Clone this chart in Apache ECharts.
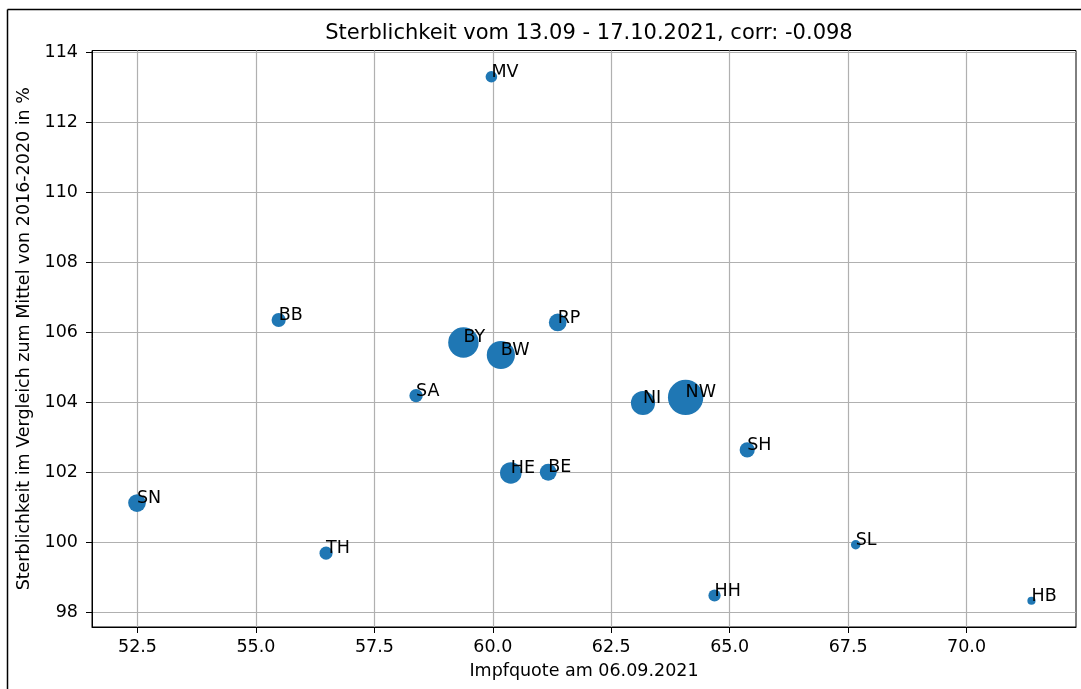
<!DOCTYPE html>
<html>
<head>
<meta charset="utf-8">
<script src="https://cdn.jsdelivr.net/npm/echarts@6/dist/echarts.min.js"></script>
<style>
html,body{margin:0;padding:0;background:#fff;}
#chart{width:1081px;height:689px;}
</style>
</head>
<body>
<div id="chart"></div>
<script>
// ---- data ----
const laender = ['MV','BB','BY','BW','RP','SA','NI','NW','SH','HE','BE','SN','TH','SL','HH','HB'];
const impfquote = [59.97, 55.48, 59.38, 60.17, 61.37, 58.38, 63.17, 64.07, 65.37, 60.38, 61.17, 52.49, 56.48, 67.66, 64.68, 71.37];
const sterblichkeit = [113.31, 106.36, 105.72, 105.36, 106.29, 104.20, 103.99, 104.15, 102.65, 101.99, 102.01, 101.13, 99.70, 99.94, 98.49, 98.34];
const einwohner = [1.6, 2.5, 13.1, 11.1, 4.1, 2.2, 8.0, 17.9, 2.9, 6.3, 3.7, 4.1, 2.1, 1.0, 1.8, 0.7];
const xTicks = [52.5, 55.0, 57.5, 60.0, 62.5, 65.0, 67.5, 70.0];
const yTicks = [98, 100, 102, 104, 106, 108, 110, 112, 114];
const titel = 'Sterblichkeit vom 13.09 - 17.10.2021, corr: -0.098';
const xName = 'Impfquote am 06.09.2021';
const yName = 'Sterblichkeit im Vergleich zum Mittel von 2016-2020 in %';

const points = laender.map((n, i) => ({name: n, value: [impfquote[i], sterblichkeit[i], einwohner[i]]}));

const FONT = 'DejaVu Sans';
const chart = echarts.init(document.getElementById('chart'), null, {renderer: 'canvas'});
chart.setOption({
  animation: false,
  backgroundColor: '#ffffff',
  title: {
    text: titel, left: 584, top: 18, textAlign: 'center',
    textStyle: {fontFamily: FONT, fontSize: 21, fontWeight: 'normal', color: '#000'}
  },
  grid: {left: 92, right: 5, top: 50.5, bottom: 62, show: true, borderColor: '#000', borderWidth: 1, backgroundColor: 'transparent'},
  xAxis: {
    type: 'value', min: 51.54, max: 72.31,
    name: xName, nameLocation: 'middle', nameGap: 35,
    nameTextStyle: {fontFamily: FONT, fontSize: 17.5, color: '#000'},
    axisLine: {show: true, onZero: false, lineStyle: {color: '#000', width: 1}},
    axisTick: {show: true, length: 6, customValues: xTicks, lineStyle: {color: '#000', width: 1}},
    axisLabel: {customValues: xTicks, margin: 11, fontFamily: FONT, fontSize: 17.5, color: '#000',
      formatter: v => Number(v).toFixed(1)},
    splitLine: {show: true, lineStyle: {color: '#b0b0b0', width: 1.2}}
  },
  yAxis: {
    type: 'value', min: 97.59, max: 114.06,
    name: yName, nameLocation: 'middle', nameGap: 56, nameRotate: 90,
    nameTextStyle: {fontFamily: FONT, fontSize: 17.5, color: '#000'},
    axisLine: {show: true, onZero: false, lineStyle: {color: '#000', width: 1}},
    axisTick: {show: true, length: 6, customValues: yTicks, lineStyle: {color: '#000', width: 1}},
    axisLabel: {customValues: yTicks, margin: 14, fontFamily: FONT, fontSize: 17.5, color: '#000',
      formatter: v => String(Math.round(v))},
    splitLine: {show: true, lineStyle: {color: '#b0b0b0', width: 1.2}}
  },
  graphic: [
    {type: 'line', shape: {x1: 7.5, y1: 9.5, x2: 1081, y2: 9.5}, style: {stroke: '#000', lineWidth: 1.5}, silent: true},
    {type: 'line', shape: {x1: 7.5, y1: 9.5, x2: 7.5, y2: 689}, style: {stroke: '#000', lineWidth: 1.5}, silent: true}
  ],
  series: [{
    type: 'scatter',
    data: points,
    symbolSize: v => 8 * Math.sqrt(v[2]) + 1.5,
    itemStyle: {color: '#1f77b4', opacity: 1},
    label: {
      show: true, position: ['50%', '50%'], align: 'left', verticalAlign: 'middle', offset: [0, -4.5],
      formatter: p => p.name, fontFamily: FONT, fontSize: 17.5, color: '#000'
    },
    emphasis: {disabled: true}
  }]
});
</script>
</body>
</html>
